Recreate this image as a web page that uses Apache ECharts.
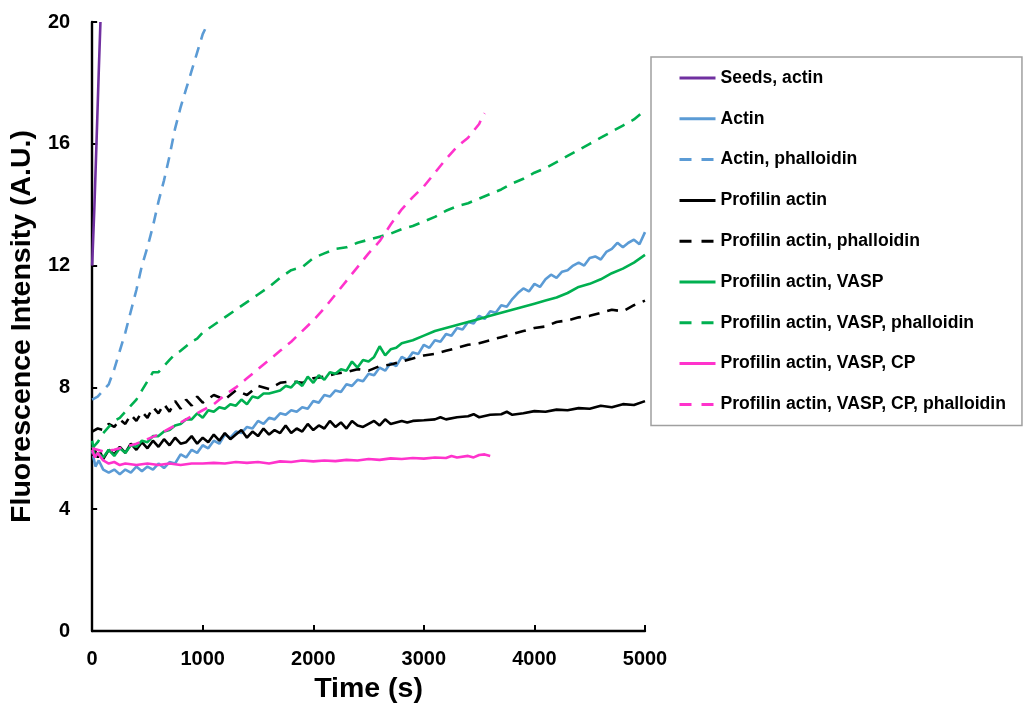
<!DOCTYPE html>
<html>
<head>
<meta charset="utf-8">
<script src="https://cdn.jsdelivr.net/npm/echarts@6/dist/echarts.min.js"></script>
<style>
html,body{margin:0;padding:0;background:#fff;}
#chart{width:1026px;height:711px;}
</style>
</head>
<body>
<div id="chart"></div>
<script>
// ---- data ----
const seriesNames = [
  'Seeds, actin',
  'Actin',
  'Actin, phalloidin',
  'Profilin actin',
  'Profilin actin, phalloidin',
  'Profilin actin, VASP',
  'Profilin actin, VASP, phalloidin',
  'Profilin actin, VASP, CP',
  'Profilin actin, VASP, CP, phalloidin'
];

const seedsActin = [[0,12],[20,13.9],[40,16.1],[60,18.4],[75,20]];

const actin = [[0,5.9],[30,5.4],[60,5.6],[100,5.3],[150,5.2],[200,5.3],[250,5.15],[300,5.3],[350,5.2],[400,5.4],[450,5.25],[500,5.4],[550,5.3],[600,5.5],[650,5.35],[700,5.55],[750,5.5],[800,5.8],[850,5.7],[900,5.95],[950,5.85],[1000,6.1],[1050,6.0],[1100,6.25],[1150,6.15],[1200,6.45],[1250,6.35],[1300,6.55],[1350,6.5],[1400,6.7],[1450,6.65],[1500,6.9],[1550,6.8],[1600,7.0],[1650,6.95],[1700,7.15],[1750,7.1],[1800,7.25],[1850,7.2],[1900,7.35],[1950,7.3],[2000,7.55],[2050,7.5],[2100,7.75],[2150,7.7],[2200,7.9],[2250,7.85],[2300,8.1],[2350,8.05],[2400,8.25],[2450,8.2],[2500,8.45],[2550,8.4],[2600,8.65],[2650,8.55],[2700,8.8],[2750,8.7],[2800,9.0],[2850,8.9],[2900,9.15],[2950,9.1],[3000,9.4],[3050,9.3],[3100,9.55],[3150,9.5],[3200,9.75],[3250,9.7],[3300,9.95],[3350,9.9],[3400,10.15],[3450,10.1],[3500,10.35],[3550,10.25],[3600,10.5],[3650,10.45],[3700,10.7],[3750,10.65],[3800,10.9],[3850,11.1],[3900,11.25],[3950,11.15],[4000,11.4],[4050,11.3],[4100,11.55],[4150,11.7],[4200,11.6],[4250,11.8],[4300,11.85],[4350,12.0],[4400,12.1],[4450,12.0],[4500,12.25],[4550,12.3],[4600,12.2],[4650,12.45],[4700,12.55],[4750,12.75],[4800,12.6],[4850,12.75],[4900,12.85],[4950,12.7],[5000,13.1]];

const actinPhalloidin = [[0,7.6],[50,7.7],[100,7.9],[150,8.1],[200,8.6],[250,9.2],[300,9.8],[350,10.5],[400,11.2],[450,12.0],[500,12.6],[550,13.3],[600,14.1],[650,14.8],[700,15.6],[750,16.5],[800,17.2],[850,17.8],[900,18.4],[950,19.0],[1000,19.6],[1040,19.9]];

const profilinActin = [[0,5.75],[25,5.95],[50,5.7],[75,5.85],[100,5.65],[150,5.95],[200,5.8],[250,6.05],[300,5.85],[350,6.15],[400,5.95],[450,6.2],[500,6.0],[550,6.25],[600,6.05],[650,6.3],[700,6.1],[750,6.35],[800,6.15],[850,6.2],[900,6.4],[950,6.15],[1000,6.35],[1050,6.2],[1100,6.45],[1150,6.25],[1200,6.5],[1250,6.3],[1300,6.45],[1350,6.6],[1400,6.35],[1450,6.55],[1500,6.4],[1550,6.65],[1600,6.45],[1650,6.6],[1700,6.5],[1750,6.75],[1800,6.5],[1850,6.65],[1900,6.55],[1950,6.8],[2000,6.6],[2050,6.75],[2100,6.65],[2150,6.9],[2200,6.7],[2250,6.85],[2300,6.65],[2350,6.9],[2400,6.75],[2450,6.7],[2500,6.8],[2550,6.9],[2600,6.75],[2650,6.95],[2700,6.8],[2750,6.85],[2800,6.9],[2850,6.85],[2900,6.9],[3000,6.92],[3100,6.95],[3150,7.02],[3200,6.95],[3300,7.02],[3400,7.05],[3450,7.12],[3500,7.02],[3600,7.1],[3700,7.12],[3750,7.2],[3800,7.1],[3900,7.15],[4000,7.22],[4100,7.2],[4200,7.27],[4300,7.25],[4400,7.32],[4500,7.3],[4600,7.4],[4700,7.35],[4800,7.45],[4900,7.42],[5000,7.55]];

const profilinActinPhalloidin = [[0,6.55],[50,6.65],[100,6.6],[150,6.8],[200,6.7],[250,6.95],[300,6.8],[350,7.1],[400,6.9],[450,7.2],[500,7.0],[550,7.35],[600,7.15],[650,7.45],[700,7.2],[750,7.55],[800,7.3],[850,7.6],[900,7.4],[950,7.7],[1000,7.5],[1100,7.75],[1200,7.6],[1300,7.9],[1400,7.75],[1500,8.05],[1600,7.95],[1700,8.15],[1800,8.2],[1900,8.15],[2000,8.3],[2100,8.35],[2200,8.45],[2300,8.5],[2400,8.6],[2500,8.55],[2600,8.7],[2700,8.75],[2800,8.85],[2900,8.95],[3000,9.05],[3100,9.1],[3200,9.2],[3300,9.3],[3400,9.4],[3500,9.45],[3600,9.55],[3700,9.65],[3800,9.75],[3900,9.85],[4000,9.95],[4100,10.0],[4200,10.15],[4300,10.2],[4400,10.3],[4500,10.35],[4600,10.45],[4700,10.55],[4800,10.5],[4900,10.7],[5000,10.85]];

const profilinActinVasp = [[0,6.25],[25,5.7],[50,5.85],[100,5.7],[150,5.95],[200,5.75],[250,6.0],[300,5.85],[350,6.1],[400,6.05],[450,6.25],[500,6.2],[550,6.4],[600,6.4],[650,6.55],[700,6.6],[750,6.75],[800,6.8],[850,6.95],[900,6.95],[950,7.15],[1000,7.0],[1050,7.25],[1100,7.2],[1150,7.35],[1200,7.3],[1250,7.45],[1300,7.4],[1350,7.6],[1400,7.45],[1450,7.7],[1500,7.65],[1550,7.8],[1600,7.8],[1650,7.85],[1700,7.9],[1750,8.05],[1800,8.0],[1850,8.2],[1900,8.05],[1950,8.35],[2000,8.15],[2050,8.4],[2100,8.25],[2150,8.5],[2200,8.45],[2250,8.6],[2300,8.55],[2350,8.85],[2400,8.65],[2450,8.9],[2500,8.85],[2550,9.0],[2600,9.35],[2650,9.05],[2700,9.25],[2750,9.3],[2800,9.45],[2900,9.55],[3000,9.7],[3100,9.85],[3200,9.95],[3300,10.05],[3400,10.15],[3500,10.25],[3600,10.35],[3700,10.45],[3800,10.55],[3900,10.65],[4000,10.75],[4100,10.85],[4200,10.95],[4300,11.1],[4400,11.3],[4500,11.4],[4600,11.55],[4700,11.75],[4800,11.9],[4900,12.1],[5000,12.35]];

const profilinActinVaspPhalloidin = [[0,6.0],[50,6.2],[100,6.5],[150,6.7],[200,6.9],[250,7.0],[300,7.2],[350,7.4],[400,7.6],[450,7.9],[500,8.2],[550,8.5],[600,8.5],[650,8.7],[700,8.9],[750,9.1],[800,9.2],[850,9.35],[900,9.5],[950,9.6],[1000,9.8],[1100,10.05],[1200,10.3],[1300,10.55],[1400,10.8],[1500,11.05],[1600,11.3],[1700,11.6],[1800,11.85],[1900,11.95],[2000,12.25],[2100,12.4],[2200,12.55],[2300,12.6],[2400,12.75],[2500,12.85],[2600,12.95],[2700,13.05],[2800,13.2],[2900,13.3],[3000,13.45],[3100,13.6],[3200,13.8],[3300,13.95],[3400,14.05],[3500,14.2],[3600,14.35],[3700,14.5],[3800,14.7],[3900,14.85],[4000,15.05],[4100,15.2],[4200,15.4],[4300,15.6],[4400,15.8],[4500,16.0],[4600,16.2],[4700,16.4],[4800,16.6],[4900,16.8],[5000,17.1]];

const profilinActinVaspCp = [[0,5.95],[25,5.7],[50,5.85],[100,5.6],[150,5.5],[200,5.55],[250,5.45],[300,5.5],[400,5.45],[500,5.5],[600,5.45],[700,5.5],[800,5.45],[900,5.5],[1000,5.5],[1100,5.52],[1200,5.5],[1300,5.55],[1400,5.52],[1500,5.55],[1600,5.5],[1700,5.57],[1800,5.55],[1900,5.6],[2000,5.57],[2100,5.6],[2200,5.58],[2300,5.62],[2400,5.6],[2500,5.65],[2600,5.62],[2700,5.67],[2800,5.65],[2900,5.68],[3000,5.66],[3100,5.7],[3200,5.68],[3250,5.75],[3300,5.7],[3400,5.75],[3450,5.7],[3500,5.78],[3550,5.8],[3600,5.75]];

const profilinActinVaspCpPhalloidin = [[0,6.0],[100,5.9],[200,5.95],[300,6.05],[400,6.15],[500,6.3],[600,6.45],[700,6.65],[800,6.85],[900,7.05],[1000,7.25],[1100,7.45],[1200,7.75],[1300,8.0],[1400,8.3],[1500,8.6],[1600,8.9],[1700,9.2],[1800,9.5],[1900,9.85],[2000,10.2],[2100,10.6],[2200,11.05],[2300,11.5],[2400,11.95],[2500,12.4],[2600,12.8],[2700,13.35],[2800,13.85],[2900,14.25],[3000,14.6],[3100,15.05],[3200,15.5],[3300,15.9],[3400,16.2],[3500,16.65],[3530,16.9],[3550,17.0]];

const xTicks = [0, 1000, 2000, 3000, 4000, 5000];
const yTicks = [0, 4, 8, 12, 16, 20];

// ---- styling ----
const FONT = '"Liberation Sans", Arial, Helvetica, sans-serif';
const PURPLE = '#7030A0', BLUE = '#5B9BD5', BLACK = '#000000', GREEN = '#00B050', MAGENTA = '#FF33CC';
const DASH = [11, 8];
const dashedSet = [false, false, true, false, true, false, true, false, true];
const colorSet = [PURPLE, BLUE, BLUE, BLACK, BLACK, GREEN, GREEN, MAGENTA, MAGENTA];
const dataSet = [seedsActin, actin, actinPhalloidin, profilinActin, profilinActinPhalloidin,
  profilinActinVasp, profilinActinVaspPhalloidin, profilinActinVaspCp, profilinActinVaspCpPhalloidin];

function mk(i) {
  return {
    name: seriesNames[i], type: 'line', data: dataSet[i], symbol: 'none', showSymbol: false,
    lineStyle: { color: colorSet[i], width: 2.6, type: dashedSet[i] ? DASH : 'solid' },
    itemStyle: { color: colorSet[i] },
    emphasis: { disabled: true }, animation: false
  };
}

const chart = echarts.init(document.getElementById('chart'), null, { renderer: 'canvas' });
chart.setOption({
  backgroundColor: '#ffffff',
  animation: false,
  grid: { left: 89, right: 381, top: 22, bottom: 80, containLabel: false },
  xAxis: {
    type: 'value', min: xTicks[0], max: xTicks[xTicks.length - 1], interval: 1000,
    name: 'Time (s)', nameLocation: 'middle', nameGap: 44,
    nameTextStyle: { fontFamily: FONT, fontSize: 28.5, fontWeight: 'bold', color: '#000' },
    axisLine: { show: true, onZero: false, lineStyle: { color: '#000', width: 2.4 } },
    axisTick: { show: true, inside: true, length: 6, lineStyle: { color: '#000', width: 2 } },
    axisLabel: { fontFamily: FONT, fontSize: 20, fontWeight: 'bold', color: '#000', margin: 18,
      formatter: function (v) { return String(v); } },
    splitLine: { show: false }
  },
  yAxis: {
    type: 'value', min: yTicks[0], max: yTicks[yTicks.length - 1], interval: 4,
    name: 'Fluorescence Intensity (A.U.)', nameLocation: 'middle', nameGap: 54,
    nameTextStyle: { fontFamily: FONT, fontSize: 28.5, fontWeight: 'bold', color: '#000' },
    axisLine: { show: true, onZero: false, lineStyle: { color: '#000', width: 2.4 } },
    axisTick: { show: true, inside: true, length: 5, lineStyle: { color: '#000', width: 2 } },
    axisLabel: { fontFamily: FONT, fontSize: 20, fontWeight: 'bold', color: '#000', margin: 22,
      formatter: function (v) { return String(v); } },
    splitLine: { show: false }
  },
  legend: {
    orient: 'vertical', left: 651, top: 57,
    padding: [12, 16, 12, 27],
    itemWidth: 36, itemHeight: 18, itemGap: 22.8,
    borderColor: '#a0a0a0', borderWidth: 1.5,
    selectedMode: false,
    itemStyle: { opacity: 0 },
    lineStyle: { width: 3 },
    textStyle: { fontFamily: FONT, fontSize: 17.6, fontWeight: 'bold', color: '#000', lineHeight: 18 },
    data: seriesNames.map(function (n, i) {
      return { name: n, lineStyle: { color: colorSet[i], width: 3, type: dashedSet[i] ? [12, 10] : 'solid' } };
    })
  },
  series: seriesNames.map(function (n, i) { return mk(i); })
});
</script>
</body>
</html>
